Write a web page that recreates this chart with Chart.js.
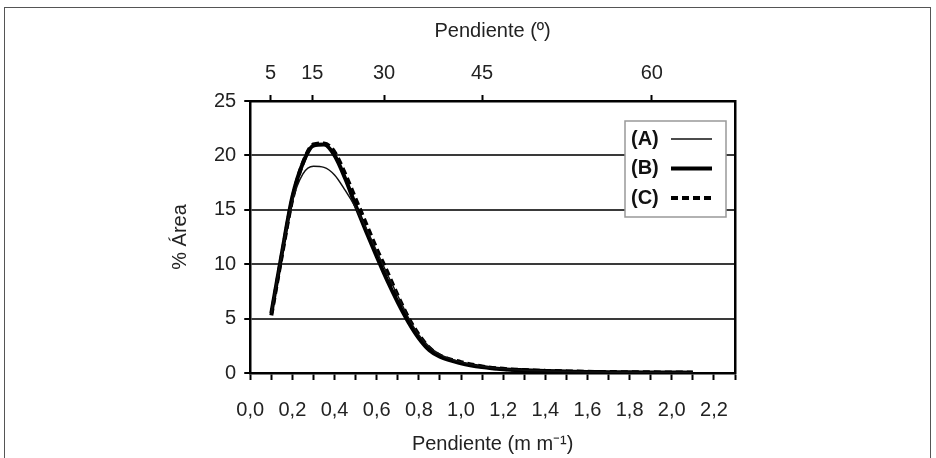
<!DOCTYPE html>
<html lang="es">
<head>
<meta charset="UTF-8">
<title>% Área según pendiente</title>
<script src="https://cdn.jsdelivr.net/npm/chart.js"></script>
<style>
    body { margin: 0; background: #fff; }
    .marco {
        position: absolute; left: 4px; top: 7px;
        width: 925px; height: 460px;
        border: 1px solid #555;
    }
    .grafico {
        position: absolute; left: 0; top: 0;
        width: 936px; height: 458px;
    }
</style>
</head>
<body>
<div class="marco"></div>
<div class="grafico"><canvas id="chart"></canvas></div>
<script>
    // pendiente en m m-1
    const pendiente = [0.10, 0.15, 0.20, 0.25, 0.30, 0.35, 0.40, 0.45, 0.50, 0.55, 0.60, 0.65, 0.70, 0.75, 0.80, 0.85, 0.90, 1.00, 1.10, 1.20, 1.30, 1.40, 1.50, 1.60, 1.70, 1.80, 1.90, 2.00, 2.10];
    const serieA = [5.5, 11.0, 15.8, 18.3, 19.0, 18.9, 18.2, 16.8, 15.2, 13.3, 11.2, 9.1, 7.1, 5.1, 3.5, 2.4, 1.7, 1.0, 0.6, 0.38, 0.26, 0.19, 0.14, 0.10, 0.08, 0.06, 0.05, 0.04, 0.03];
    const serieB = [5.5, 11.0, 16.2, 19.3, 20.9, 21.0, 20.0, 17.9, 15.4, 13.0, 10.7, 8.5, 6.5, 4.7, 3.2, 2.1, 1.5, 0.9, 0.55, 0.35, 0.25, 0.18, 0.14, 0.10, 0.08, 0.06, 0.05, 0.04, 0.03];
    const serieC = [5.3, 10.8, 16.0, 19.3, 21.0, 21.1, 20.3, 18.3, 16.0, 13.7, 11.4, 9.3, 7.1, 5.1, 3.5, 2.3, 1.6, 1.0, 0.6, 0.38, 0.27, 0.20, 0.15, 0.11, 0.09, 0.07, 0.06, 0.05, 0.04];
    const nombres = ['(A)', '(B)', '(C)'];
    const gradosArriba = [5, 15, 30, 45, 60];

    const fuente = '"Liberation Sans", Arial, sans-serif';
    Chart.defaults.font.family = fuente;
    Chart.defaults.font.size = 20;
    Chart.defaults.color = '#222';

    function puntos(serie) {
        return pendiente.map((x, i) => ({ x: x, y: serie[i] }));
    }

    // leyenda dibujada a mano: texto a la izquierda, línea a la derecha
    const leyenda = {
        id: 'leyenda',
        afterDraw(chart) {
            const ctx = chart.ctx;
            const area = chart.chartArea;
            const x0 = area.right - 110, y0 = area.top + 20;
            ctx.save();
            ctx.fillStyle = '#fff';
            ctx.fillRect(x0, y0, 101, 96);
            ctx.strokeStyle = '#999';
            ctx.lineWidth = 1.5;
            ctx.strokeRect(x0, y0, 101, 96);
            ctx.font = 'bold 20px ' + fuente;
            ctx.textBaseline = 'middle';
            chart.data.datasets.forEach((ds, i) => {
                const y = y0 + 18 + i * 29.5;
                ctx.fillStyle = '#111';
                ctx.fillText(ds.label, x0 + 6, y);
                ctx.beginPath();
                ctx.strokeStyle = ds.borderColor;
                ctx.lineWidth = ds.borderWidth;
                ctx.setLineDash(ds.borderDash || []);
                ctx.moveTo(x0 + 46, y);
                ctx.lineTo(x0 + 87, y);
                ctx.stroke();
                ctx.setLineDash([]);
            });
            ctx.restore();
        }
    };

    new Chart(document.getElementById('chart'), {
        type: 'line',
        data: {
            datasets: [
                { label: nombres[0], data: puntos(serieA), borderColor: '#111', borderWidth: 1.5 },
                { label: nombres[1], data: puntos(serieB), borderColor: '#000', borderWidth: 4 },
                { label: nombres[2], data: puntos(serieC), borderColor: '#000', borderWidth: 4, borderDash: [7, 4] }
            ]
        },
        options: {
            responsive: true,
            maintainAspectRatio: false,
            animation: false,
            layout: { padding: { left: 164, right: 201, top: 19, bottom: 2 } },
            elements: { point: { radius: 0 }, line: { cubicInterpolationMode: 'monotone' } },
            plugins: { legend: { display: false }, tooltip: { enabled: false } },
            scales: {
                x: {
                    type: 'linear', position: 'bottom', min: 0, max: 2.3,
                    ticks: {
                        stepSize: 0.1, padding: 20, maxRotation: 0, autoSkip: false,
                        font: { lineHeight: 1 },
                        callback: v => Math.round(v * 10) % 2 === 0 ? v.toFixed(1).replace('.', ',') : ''
                    },
                    grid: { drawOnChartArea: false, tickLength: 7, tickWidth: 2, tickColor: '#000' },
                    border: { color: '#000', width: 2.5 },
                    title: { display: true, text: 'Pendiente (m m⁻¹)', font: { lineHeight: 1 }, padding: { top: -6, bottom: 2 } }
                },
                x2: {
                    type: 'linear', position: 'top', min: 0, max: 2.091,
                    afterBuildTicks: axis => {
                        axis.ticks = gradosArriba.map(g => ({ value: Math.tan(g * Math.PI / 180) }));
                    },
                    ticks: {
                        padding: 10, maxRotation: 0, autoSkip: false,
                        callback: v => String(Math.round(Math.atan(v) * 180 / Math.PI))
                    },
                    grid: { drawOnChartArea: false, tickLength: 6, tickWidth: 2, tickColor: '#000' },
                    border: { color: '#000', width: 2.5 },
                    title: { display: true, text: 'Pendiente (º)', padding: { top: 0, bottom: 8 } }
                },
                y: {
                    min: 0, max: 25,
                    ticks: { stepSize: 5, padding: 8 },
                    grid: {
                        color: c => (c.tick && (c.tick.value === 0 || c.tick.value === 25)) ? 'rgba(0,0,0,0)' : '#3a3a3a',
                        lineWidth: 2, tickLength: 6, tickWidth: 2, tickColor: '#000'
                    },
                    border: { color: '#000', width: 2.5 },
                    title: { display: true, text: '% Área', padding: { top: 4, bottom: 14 } }
                },
                y2: {
                    position: 'right', min: 0, max: 25,
                    ticks: { display: false },
                    grid: { drawOnChartArea: false, drawTicks: false },
                    border: { color: '#000', width: 2.5 }
                }
            }
        },
        plugins: [leyenda]
    });
</script>
</body>
</html>
